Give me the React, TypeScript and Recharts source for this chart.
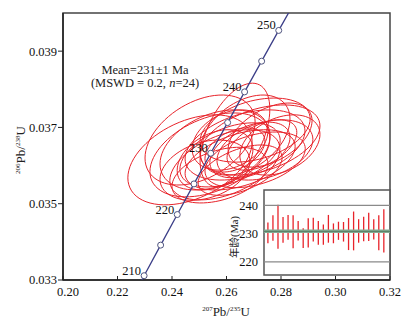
import React from 'react';
import { ComposedChart, Scatter, Bar, XAxis, YAxis, ReferenceArea, ReferenceLine } from 'recharts';

// concordia curve (Ma -> 207Pb/235U, 206Pb/238U)
const concordiaAge = [205, 210, 215, 220, 225, 230, 235, 240, 245, 250, 255];
const concordiaX = [0.22373, 0.22976, 0.23583, 0.24193, 0.24806, 0.25422, 0.26041, 0.26664, 0.27289, 0.27917, 0.28549];
const concordiaY = [0.032312, 0.033113, 0.033914, 0.034716, 0.035519, 0.036323, 0.037127, 0.037932, 0.038737, 0.039543, 0.040349];
const labeledAges = [210, 220, 230, 240, 250];

// spot ellipses (centre, 2s half widths, correlation)
const spotX = [0.2466, 0.2558, 0.2613, 0.2668, 0.2631, 0.2723, 0.2705, 0.265, 0.2521, 0.2576, 0.2686, 0.2741, 0.2503, 0.265, 0.2613, 0.276, 0.2705, 0.2558, 0.2668, 0.2594, 0.273, 0.2631, 0.2796, 0.2539];
const spotY = [0.03615, 0.03641, 0.03628, 0.03654, 0.0368, 0.03667, 0.03693, 0.03615, 0.03588, 0.03575, 0.03641, 0.03641, 0.03667, 0.03588, 0.03667, 0.0368, 0.03615, 0.03615, 0.0368, 0.03602, 0.03654, 0.03641, 0.03654, 0.03628];
const spotErrX = [0.0228, 0.0202, 0.0184, 0.022, 0.0128, 0.022, 0.0202, 0.0202, 0.0165, 0.0176, 0.0147, 0.0176, 0.0202, 0.0154, 0.0139, 0.0154, 0.0184, 0.0139, 0.0165, 0.0202, 0.0128, 0.011, 0.0147, 0.022];
const spotErrY = [0.00118, 0.00105, 0.00084, 0.00092, 0.00136, 0.00092, 0.00084, 0.00079, 0.00079, 0.00073, 0.00073, 0.00079, 0.00118, 0.00066, 0.00079, 0.00084, 0.00073, 0.00079, 0.00105, 0.00092, 0.00066, 0.00058, 0.00079, 0.0011];
const spotRho = [0.4, 0.35, 0.45, 0.4, 0.5, 0.4, 0.35, 0.45, 0.3, 0.4, 0.45, 0.35, 0.4, 0.5, 0.3, 0.45, 0.4, 0.35, 0.4, 0.45, 0.5, 0.4, 0.35, 0.4];

// inset: 206Pb/238U ages with error
const ageHigh = [233.9, 236.5, 240.2, 235.9, 236.6, 236.5, 234.5, 231.9, 235.4, 235.6, 234.5, 233.2, 236.6, 233.6, 234.2, 234.1, 235.5, 237.8, 235.1, 236.0, 237.4, 235.1, 236.5, 238.6];
const ageLow = [226.6, 227.5, 224.7, 226.8, 227.8, 224.8, 227.6, 224.9, 225.1, 227.2, 226.1, 226.1, 226.8, 226.6, 227.8, 227.2, 224.2, 224.1, 226.8, 227.3, 227.4, 227.9, 224.1, 223.3];
const meanAge = 230.8;

const xTicks = [0.2, 0.22, 0.24, 0.26, 0.28, 0.3, 0.32];
const yTicks = [0.033, 0.035, 0.037, 0.039];
const insetTicks = [220, 230, 240];

const serif = '"Liberation Serif", "DejaVu Serif", serif';
const red = '#e8232a';

const concordia = concordiaAge.map((a, i) => ({ x: concordiaX[i], y: concordiaY[i], age: a }));
const markers = concordia.filter((d) => d.age >= 210 && d.age <= 250);

const ellipses = spotX.map((cx, i) => {
  const pts = [];
  const r = spotRho[i];
  for (let k = 0; k <= 72; k++) {
    const t = (2 * Math.PI * k) / 72;
    pts.push({
      x: cx + spotErrX[i] * Math.cos(t),
      y: spotY[i] + spotErrY[i] * (r * Math.cos(t) + Math.sqrt(1 - r * r) * Math.sin(t)),
    });
  }
  return pts;
});

const insetData = ageHigh.map((h, i) => ({ id: i + 1, range: [ageLow[i], h] }));
const insetX: [number, number] = [0.25, 25.25];
const insetY: [number, number] = [215.4, 245.4];

const Marker = (props: any) => {
  const { cx, cy, payload } = props;
  return (
    <g>
      <circle cx={cx} cy={cy} r={3} fill="#fff" stroke="#50557f" strokeWidth={1} />
      {labeledAges.includes(payload.age) && (
        <text x={cx - 3} y={cy - 1} textAnchor="end" fontFamily={serif} fontSize={12.5} fill="#111">
          {payload.age}
        </text>
      )}
    </g>
  );
};

// first x label sits a little right of the corner
const XTick = (props: any) => {
  const { x, y, payload } = props;
  const shift = payload.value === 0.2 ? 5 : 0;
  return (
    <text x={x + shift} y={y} dy="0.71em" textAnchor="middle" fontFamily={serif} fontSize={12.5} fill="#111">
      {payload.value.toFixed(2)}
    </text>
  );
};

const tickStyle = { fill: '#111', fontSize: 12.5, fontFamily: serif };

export default function App() {
  return (
    <div style={{ position: 'absolute', left: 0, top: 0, width: 409, height: 326, background: '#fff' }}>
      <ComposedChart width={409} height={326} margin={{ top: 13, right: 19, left: 8, bottom: 16 }}>
        <XAxis
          type="number"
          dataKey="x"
          domain={[0.2, 0.32]}
          ticks={xTicks}
          allowDataOverflow
          tick={<XTick />}
          tickSize={-4}
          tickMargin={11}
          height={30}
          stroke="#222"
          axisLine={{ stroke: '#222', strokeWidth: 1.5 }}
        />
        <YAxis
          type="number"
          dataKey="y"
          domain={[0.033, 0.04]}
          ticks={yTicks}
          allowDataOverflow
          tickFormatter={(v) => v.toFixed(3)}
          tick={tickStyle}
          tickSize={5}
          tickMargin={1}
          width={55}
          stroke="#222"
          axisLine={{ stroke: '#222', strokeWidth: 1.5 }}
        />
        {ellipses.map((pts, i) => (
          <Scatter
            key={`e${i}`}
            data={pts}
            line={{ stroke: red, strokeWidth: 1 }}
            lineType="joint"
            shape={() => <g />}
            isAnimationActive={false}
          />
        ))}
        <Scatter
          data={concordia}
          line={{ stroke: '#3b3e88', strokeWidth: 1.3 }}
          lineType="joint"
          shape={() => <g />}
          isAnimationActive={false}
        />
        <Scatter data={markers} shape={Marker} isAnimationActive={false} />
        <ReferenceArea x1={0.2} x2={0.32} y1={0.033} y2={0.04} fill="none" stroke="#444" strokeWidth={1.5} />
      </ComposedChart>

      <div style={{ position: 'absolute', left: 218, top: 186 }}>
        <ComposedChart width={174} height={94} data={insetData} margin={{ top: 4, right: 2, left: 45, bottom: 5 }}>
          <XAxis dataKey="id" type="number" domain={insetX} allowDataOverflow hide />
          <YAxis
            type="number"
            domain={insetY}
            allowDataOverflow
            ticks={insetTicks}
            tick={tickStyle}
            axisLine={false}
            tickLine={false}
            tickSize={0}
            tickMargin={6}
            width={1}
          />
          <ReferenceArea x1={insetX[0]} x2={insetX[1]} y1={insetY[0]} y2={insetY[1]} fill="#fff" stroke="none" />
          <ReferenceLine y={240} stroke="#8a8a8a" strokeWidth={1.2} />
          <ReferenceLine y={220} stroke="#8a8a8a" strokeWidth={1.2} />
          <ReferenceLine y={meanAge} stroke="#86aa92" strokeWidth={3.5} />
          <ReferenceLine y={meanAge} stroke="#557d63" strokeWidth={1} />
          <Bar dataKey="range" fill={red} barSize={1.3} isAnimationActive={false} />
          <ReferenceArea x1={insetX[0]} x2={insetX[1]} y1={insetY[0]} y2={insetY[1]} fill="none" stroke="#555" strokeWidth={1.5} />
        </ComposedChart>
      </div>

      <svg width={409} height={326} style={{ position: 'absolute', left: 0, top: 0, pointerEvents: 'none' }}>
        <text x={145} y={73.5} textAnchor="middle" fontFamily={serif} fontSize={12.5} fill="#222">
          Mean=231±1 Ma
        </text>
        <text x={145} y={86.5} textAnchor="middle" fontFamily={serif} fontSize={12.5} fill="#222">
          (MSWD = 0.2, <tspan fontStyle="italic">n</tspan>=24)
        </text>
        <text x={226} y={316} textAnchor="middle" fontFamily={serif} fill="#222">
          <tspan fontSize={7} dy={-5}>207</tspan>
          <tspan fontSize={13} dy={5}>Pb/</tspan>
          <tspan fontSize={7} dy={-5}>235</tspan>
          <tspan fontSize={13} dy={5}>U</tspan>
        </text>
        <text x={25} y={150} textAnchor="middle" fontFamily={serif} fill="#222" transform="rotate(-90 25 150)">
          <tspan fontSize={7} dy={-5}>206</tspan>
          <tspan fontSize={13} dy={5}>Pb/</tspan>
          <tspan fontSize={7} dy={-5}>238</tspan>
          <tspan fontSize={13} dy={5}>U</tspan>
        </text>
        <text
          x={238}
          y={237}
          textAnchor="middle"
          fontFamily={'"Liberation Serif", "Noto Sans CJK SC", serif'}
          fontSize={10.5}
          fill="#222"
          transform="rotate(-90 238 237)"
        >
          年龄(Ma)
        </text>
      </svg>
    </div>
  );
}
